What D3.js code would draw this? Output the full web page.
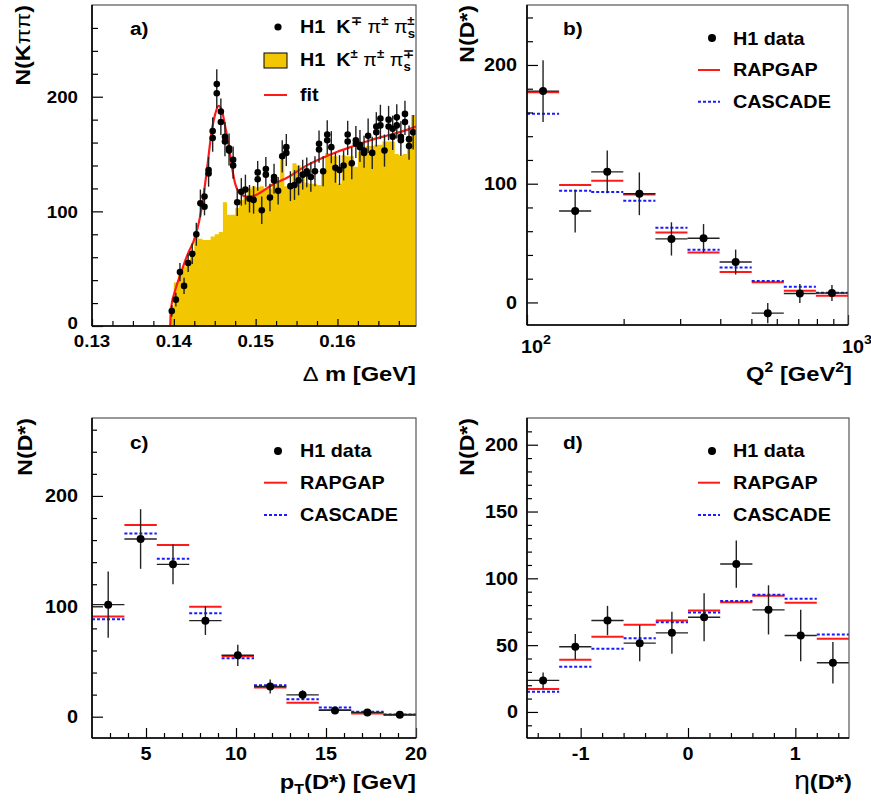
<!DOCTYPE html>
<html><head><meta charset="utf-8">
<script src="https://cdn.jsdelivr.net/npm/d3@7"></script>
<style>
body{margin:0;background:#fff}
text{font-family:"Liberation Sans",Arial,sans-serif;font-weight:bold;fill:#000;white-space:pre}
</style>
</head><body>
<svg id="fig" width="871" height="801"></svg>
<script>
// ---------------- DATA ----------------
// panel a) delta-m distribution
const aCenters = [0.13975,0.14025,0.14075,0.14125,0.14175,0.14225,0.14275,0.14325,0.14375,0.14425,
0.14475,0.14525,0.14575,0.14625,0.14675,0.14725,0.14775,0.14825,0.14875,0.14925,
0.14975,0.15025,0.15075,0.15125,0.15175,0.15225,0.15275,0.15325,0.15375,0.15425,
0.15475,0.15525,0.15575,0.15625,0.15675,0.15725,0.15775,0.15825,0.15875,0.15925,
0.15975,0.16025,0.16075,0.16125,0.16175,0.16225,0.16275,0.16325,0.16375,0.16425,
0.16475,0.16525,0.16575,0.16625,0.16675,0.16725,0.16775,0.16825,0.16875,0.16925];
const aData = [13,23,47,35,55,63,80,107,113,136,
170,211,187,165,155,145,108,117,119,111,
110,134,101,137,112,130,118,148,156,122,
123,127,132,135,130,135,159,135,167,156,
138,136,140,167,142,162,158,153,166,151,
174,181,153,180,172,182,165,185,163,169];
const aData2 = [null,null,null,null,null,null,null,null,104,133,
164,203,178,161,153,140,null,null,null,null,
null,128,null,132,null,127,null,null,151,null,
null,null,null,133,null,null,154,null,162,null,
null,null,null,161,null,159,156,151,null,null,
169,175,null,174,165,175,162,178,157,null];
const aErr = [5,6,8,7,8,9,10,12,12,13,
15,17,16,15,14,14,12,12,13,12,
12,13,12,13,12,13,12,14,14,13,
13,13,13,13,13,13,14,13,15,14,
13,13,13,15,14,14,14,14,15,14,
15,15,14,15,15,15,15,15,15,15];
const aHist = [17,38,45,52,58,64,80,76,75,75,
78,80,82,108,97,97,103,110,112,120,
122,121,122,120,120,123,127,145,122,123,
142,140,130,125,124,124,123,135,151,148,
148,124,149,148,148,139,152,152,157,157,
158,158,161,161,161,150,149,150,164,184];
const fitX = [0.13956,0.13962,0.13976,0.1400,0.14037,0.1409,0.14139,0.1419,0.1424,0.14289,0.14343,0.14404,0.14465,0.14506,0.14546,0.14587,0.14628,0.14668,0.1471,0.1475,0.14811,0.14893,0.14974,0.1505,0.152,0.154,0.156,0.158,0.160,0.162,0.164,0.166,0.168,0.1696];
const fitY = [0,10,20,27,36,47,57,66,73.5,85,104,136,171,185,192,188,174,159,139,124,115.7,112.8,113.4,116,123,130,139,146,152,157,162,166,170,174];
const aXMajor = [0.13,0.14,0.15,0.16];
const aXLabels = ["0.13","0.14","0.15","0.16"];
const aXMinor = [0.1325,0.135,0.1375,0.1425,0.145,0.1475,0.1525,0.155,0.1575,0.1625,0.165,0.1675];
const aYMajor = [0,100,200];
const aYLabels = ["0","100","200"];
const aYMinor = [20,40,60,80,120,140,160,180,220,240,260];

// panel b) Q^2
const bEdges = [100,125.9,158.5,199.5,251.2,316.2,398.1,501.2,631.0,794.3,1000];
const bData = [178,77,110,91.5,53.5,54,34,-9,7.5,8];
const bErr  = [26,18,18,18,14,12,10.5,8.5,8,6.7];
const bRap  = [177,99,102.5,91,59,42,25.6,17,9.8,5.6];
const bCas  = [159,94,93,85.7,63,44.4,29.5,18,13.2,8.1];
const bXMajor = [100,1000];
const bXLabels = ["2","3"];
const bXMinor = [200,300,400,500,600,700,800,900];
const bYMajor = [0,100,200];
const bYLabels = ["0","100","200"];
const bYMinor = [20,40,60,80,120,140,160,180,220,240];

// panel c) pT
const cEdges = [2,3.8,5.6,7.4,9.2,11,12.8,14.6,16.4,18.2,20];
const cData = [101.5,161,138,87,55.6,27.3,19.8,5.7,3.9,1.8];
const cErr  = [30,27,18,13,9.6,6.3,4.2,2,1.5,1];
const cRap  = [90.7,173.6,155.6,99.7,55,26.4,12.6,6,3,1.8];
const cCas  = [88.3,166,143,93.7,52.9,28.5,15.9,8.4,4.5,2.1];
const cXMajor = [5,10,15,20];
const cXLabels = ["5","10","15","20"];
const cXMinor = [3,4,6,7,8,9,11,12,13,14,16,17,18,19];
const cYMajor = [0,100,200];
const cYLabels = ["0","100","200"];
const cYMinor = [20,40,60,80,120,140,160,180,220,240,260];

// panel d) eta
const dEdges = [-1.5,-1.2,-0.9,-0.6,-0.3,0,0.3,0.6,0.9,1.2,1.5];
const dData = [23.6,48.8,68.4,51.5,59.2,70.9,110.7,76.4,57.2,36.8];
const dErr  = [6,9.5,11,13.5,15.7,18,17.7,18.4,19.3,15.5];
const dRap  = [17.2,39,56.2,65.2,68.4,75.9,82.1,87,81.8,54.7];
const dCas  = [15.2,33.8,47.3,55.2,67.2,74.4,83,87.8,84.8,58];
const dXMajor = [-1,0,1];
const dXLabels = ["-1","0","1"];
const dXMinor = [-1.4,-1.2,-0.8,-0.6,-0.4,-0.2,0.2,0.4,0.6,0.8,1.2,1.4];
const dYMajor = [0,50,100,150,200];
const dYLabels = ["0","50","100","150","200"];
const dYMinor = [-10,10,20,30,40,60,70,80,90,110,120,130,140,160,170,180,190,210];

// ---------------- DRAWING ----------------
const svg = d3.select("#fig");
const RED = "#ff1a1a", BLUE = "#1a1aff", YEL = "#f2c600";

function txt(g, x, y, parts, size, anchor, rot, sx) {
  const t = g.append("text")
    .attr("transform", `translate(${x},${y})` + (rot ? " rotate(-90)" : "") + ` scale(${sx || 1.1},1)`)
    .attr("text-anchor", anchor || "start")
    .style("font-size", size + "px");
  if (typeof parts === "string") parts = [{t: parts}];
  parts.forEach(p => {
    const s = t.append("tspan").text(p.t);
    if (p.dy) s.attr("dy", p.dy);
    if (p.dx) s.attr("dx", p.dx);
    if (p.fs) s.style("font-size", p.fs + "px");
    if (p.n) s.style("font-weight", "normal");
  });
  return t;
}

function frame(box, id) {
  const g = svg.append("g");
  const clipId = "clip" + id;
  svg.append("clipPath").attr("id", clipId).append("rect")
    .attr("x", box.x0).attr("y", box.y0).attr("width", box.x1 - box.x0).attr("height", box.y1 - box.y0);
  const inner = g.append("g").attr("clip-path", `url(#${clipId})`);
  return {g, inner};
}

function axes(g, box, xs, ys, cfg) {
  const mk = (axis, vals, size, tr) => {
    const a = g.append("g").attr("transform", tr)
      .call(axis.tickValues(vals).tickSizeInner(-size).tickSizeOuter(0).tickFormat(""));
    a.select(".domain").remove();
    a.selectAll("line").attr("stroke", "#000").attr("stroke-width", 1.2);
  };
  mk(d3.axisBottom(xs), cfg.xMinor, cfg.xMinLen, `translate(0,${box.y1})`);
  mk(d3.axisBottom(xs), cfg.xMajor, cfg.xMajLen, `translate(0,${box.y1})`);
  mk(d3.axisLeft(ys), cfg.yMinor, cfg.yMinLen, `translate(${box.x0},0)`);
  mk(d3.axisLeft(ys), cfg.yMajor, cfg.yMajLen, `translate(${box.x0},0)`);
  g.append("rect").attr("x", box.x0).attr("y", box.y0)
    .attr("width", box.x1 - box.x0).attr("height", box.y1 - box.y0)
    .attr("fill", "none").attr("stroke", "#555").attr("stroke-width", 1.2);
  g.append("line").attr("x1", box.x0).attr("x2", box.x1).attr("y1", box.y1).attr("y2", box.y1)
    .attr("stroke", "#000").attr("stroke-width", 1.6);
  g.append("line").attr("x1", box.x0).attr("x2", box.x0).attr("y1", box.y0).attr("y2", box.y1)
    .attr("stroke", "#000").attr("stroke-width", 1.6);
  cfg.yMajor.forEach((v, i) => txt(g, cfg.yLabX, ys(v) + (cfg.yOff && v === 0 ? cfg.yOff : 6.5), cfg.yLabels[i], cfg.fs, "end"));
}

function binnedPanel(box, xs, ys, edges, data, err, rap, cas, id) {
  const {g, inner} = frame(box, id);
  const n = data.length;
  for (let i = 0; i < n; i++) {
    const xl = xs(edges[i]), xr = xs(edges[i + 1]);
    inner.append("line").attr("x1", xl).attr("x2", xr).attr("y1", ys(rap[i])).attr("y2", ys(rap[i]))
      .attr("stroke", RED).attr("stroke-width", 2);
    inner.append("line").attr("x1", xl).attr("x2", xr).attr("y1", ys(cas[i])).attr("y2", ys(cas[i]))
      .attr("stroke", BLUE).attr("stroke-width", 2).attr("stroke-dasharray", "3,2");
  }
  for (let i = 0; i < n; i++) {
    const xl = xs(edges[i]), xr = xs(edges[i + 1]);
    const xc = (xs.base ? xs(Math.sqrt(edges[i] * edges[i + 1])) : xs((edges[i] + edges[i + 1]) / 2));
    inner.append("line").attr("x1", xl).attr("x2", xr).attr("y1", ys(data[i])).attr("y2", ys(data[i]))
      .attr("stroke", "#222").attr("stroke-width", 1.4);
    inner.append("line").attr("x1", xc).attr("x2", xc).attr("y1", ys(data[i] - err[i])).attr("y2", ys(data[i] + err[i]))
      .attr("stroke", "#222").attr("stroke-width", 1.4);
    inner.append("circle").attr("cx", xc).attr("cy", ys(data[i])).attr("r", 4).attr("fill", "#000");
  }
  return g;
}

function modelLegend(g, box, rel) {
  const x0 = box.x0, y0 = box.y0;
  g.append("circle").attr("cx", x0 + rel.dot[0]).attr("cy", y0 + rel.dot[1]).attr("r", 4).attr("fill", "#000");
  txt(g, x0 + rel.tx, y0 + rel.t1, "H1 data", 18);
  g.append("line").attr("x1", x0 + rel.l[0]).attr("x2", x0 + rel.l[1]).attr("y1", y0 + rel.r).attr("y2", y0 + rel.r)
    .attr("stroke", RED).attr("stroke-width", 2);
  txt(g, x0 + rel.tx, y0 + rel.t2, "RAPGAP", 18);
  g.append("line").attr("x1", x0 + rel.l[0]).attr("x2", x0 + rel.l[1]).attr("y1", y0 + rel.c).attr("y2", y0 + rel.c)
    .attr("stroke", BLUE).attr("stroke-width", 2).attr("stroke-dasharray", "3,2");
  txt(g, x0 + rel.tx, y0 + rel.t3, "CASCADE", 18);
}

const TFS = 21, TSX = 1.13;

// ----- panel a -----
{
  const box = {x0: 92, x1: 416, y0: 5, y1: 326};
  const xs = d3.scaleLinear().domain([0.13, 0.1696]).range([box.x0, box.x1]);
  const ys = d3.scaleLinear().domain([0, 280]).range([box.y1, box.y0]);
  const {g, inner} = frame(box, "a");
  const pts = [];
  aCenters.forEach((c, i) => { pts.push([c - 0.00025, aHist[i]]); pts.push([c + 0.00025, aHist[i]]); });
  inner.append("path").datum(pts)
    .attr("d", d3.area().x(d => xs(d[0])).y0(ys(0)).y1(d => ys(d[1])))
    .attr("fill", YEL);
  inner.append("path").datum(fitX.map((x, i) => [x, fitY[i]]))
    .attr("d", d3.line().x(d => xs(d[0])).y(d => ys(d[1])).curve(d3.curveMonotoneX))
    .attr("fill", "none").attr("stroke", RED).attr("stroke-width", 2.2);
  aCenters.forEach((c, i) => {
    const v2 = aData2[i];
    const m = v2 == null ? aData[i] : (aData[i] + v2) / 2;
    inner.append("line").attr("x1", xs(c)).attr("x2", xs(c))
      .attr("y1", ys(m - aErr[i])).attr("y2", ys(m + aErr[i]))
      .attr("stroke", "#222").attr("stroke-width", 1.4);
  });
  aCenters.forEach((c, i) => {
    inner.append("circle").attr("cx", xs(c)).attr("cy", ys(aData[i])).attr("r", 3.3).attr("fill", "#000");
    if (aData2[i] != null)
      inner.append("circle").attr("cx", xs(c)).attr("cy", ys(aData2[i])).attr("r", 3.3).attr("fill", "#000");
  });
  axes(g, box, xs, ys, {xMajor: aXMajor, xMinor: aXMinor, yMajor: aYMajor, yMinor: aYMinor, yLabels: aYLabels,
    xMajLen: 7, xMinLen: 5, yMajLen: 11, yMinLen: 6, yLabX: 78, fs: 17, yOff: 3});
  aXMajor.forEach((v, i) => txt(g, xs(v), 347, aXLabels[i], 17, "middle"));
  g.append("circle").attr("cx", 278).attr("cy", 27).attr("r", 3.6).attr("fill", "#000");
  txt(g, 300, 33, [{t: "H1  K"}, {t: "\u2213", fs: 12, dy: -8}, {t: " \u03c0", dy: 8, n: 1},
    {t: "\u00b1", fs: 12, dy: -8}, {t: " \u03c0", dy: 8, n: 1}, {t: "s", fs: 12, dy: 5},
    {t: "\u00b1", fs: 12, dx: -7, dy: -13}], 18);
  g.append("rect").attr("x", 264).attr("y", 53).attr("width", 23).attr("height", 15)
    .attr("fill", YEL).attr("stroke", "#000").attr("stroke-width", 1);
  txt(g, 300, 66, [{t: "H1  K"}, {t: "\u00b1", fs: 12, dy: -8}, {t: " \u03c0", dy: 8, n: 1},
    {t: "\u00b1", fs: 12, dy: -8}, {t: " \u03c0", dy: 8, n: 1}, {t: "s", fs: 12, dy: 5},
    {t: "\u2213", fs: 12, dx: -7, dy: -13}], 18);
  g.append("line").attr("x1", 264).attr("x2", 287).attr("y1", 95).attr("y2", 95)
    .attr("stroke", RED).attr("stroke-width", 2);
  txt(g, 300, 101, "fit", 18);
  txt(g, 130, 35, "a)", 19);
  txt(g, 416, 381, [{t: "\u0394", n: 1}, {t: " m [GeV]"}], TFS, "end", false, TSX);
  txt(g, 30, 5, [{t: "N(K"}, {t: "\u03c0\u03c0", n: 1}, {t: ")"}], TFS, "end", true, 1.1);
}

// ----- panel b -----
{
  const box = {x0: 527, x1: 848, y0: 5, y1: 325};
  const xs = d3.scaleLog().domain([100, 1000]).range([box.x0, box.x1]);
  const ys = d3.scaleLinear().domain([-19, 250.5]).range([box.y1, box.y0]);
  const g = binnedPanel(box, xs, ys, bEdges, bData, bErr, bRap, bCas, "b");
  axes(g, box, xs, ys, {xMajor: bXMajor, xMinor: bXMinor, yMajor: bYMajor, yMinor: bYMinor, yLabels: bYLabels,
    xMajLen: 10, xMinLen: 6, yMajLen: 11, yMinLen: 6, yLabX: 517, fs: 18});
  bXMajor.forEach((v, i) => txt(g, xs(v) - 6, 353, [{t: "10"}, {t: bXLabels[i], fs: 13, dy: -9}], 18, "start"));
  modelLegend(g, box, {dot: [185, 33], tx: 206, t1: 40, l: [171, 193], r: 65, t2: 71, c: 96.7, t3: 103});
  txt(g, 563, 35, "b)", 19);
  txt(g, 852, 381, [{t: "Q"}, {t: "2", fs: 14, dy: -9}, {t: " [GeV", dy: 9}, {t: "2", fs: 14, dy: -9}, {t: "]", dy: 9}], TFS, "end", false, TSX);
  txt(g, 474, 5, "N(D*)", TFS, "end", true, 1.1);
}

// ----- panel c -----
{
  const box = {x0: 92, x1: 416, y0: 418, y1: 738};
  const xs = d3.scaleLinear().domain([2, 20]).range([box.x0, box.x1]);
  const ys = d3.scaleLinear().domain([-19.3, 270.6]).range([box.y1, box.y0]);
  const g = binnedPanel(box, xs, ys, cEdges, cData, cErr, cRap, cCas, "c");
  axes(g, box, xs, ys, {xMajor: cXMajor, xMinor: cXMinor, yMajor: cYMajor, yMinor: cYMinor, yLabels: cYLabels,
    xMajLen: 10, xMinLen: 5, yMajLen: 11, yMinLen: 5, yLabX: 78, fs: 18});
  cXMajor.forEach((v, i) => txt(g, xs(v), 760, cXLabels[i], 18, "middle"));
  modelLegend(g, box, {dot: [186, 33], tx: 208, t1: 39, l: [172, 195], r: 64.7, t2: 71, c: 97, t3: 103});
  txt(g, 130, 449, "c)", 19);
  txt(g, 416, 789, [{t: "p"}, {t: "T", fs: 14, dy: 5}, {t: "(D*) [GeV]", dy: -5}], TFS, "end", false, TSX);
  txt(g, 32, 418, "N(D*)", TFS, "end", true, 1.1);
}

// ----- panel d -----
{
  const box = {x0: 527, x1: 849, y0: 418, y1: 738};
  const xs = d3.scaleLinear().domain([-1.5, 1.5]).range([box.x0, box.x1]);
  const ys = d3.scaleLinear().domain([-19.5, 220]).range([box.y1, box.y0]);
  const g = binnedPanel(box, xs, ys, dEdges, dData, dErr, dRap, dCas, "d");
  axes(g, box, xs, ys, {xMajor: dXMajor, xMinor: dXMinor, yMajor: dYMajor, yMinor: dYMinor, yLabels: dYLabels,
    xMajLen: 10, xMinLen: 5, yMajLen: 11, yMinLen: 5, yLabX: 518, fs: 18});
  dXMajor.forEach((v, i) => txt(g, xs(v), 760, dXLabels[i], 18, "middle"));
  modelLegend(g, box, {dot: [185, 33], tx: 206, t1: 39, l: [171, 193], r: 64.7, t2: 71, c: 97, t3: 103});
  txt(g, 563, 449, "d)", 19);
  txt(g, 852, 789, [{t: "\u03b7", n: 1, fs: 25}, {t: "(D*)"}], TFS, "end", false, TSX);
  txt(g, 474, 418, "N(D*)", TFS, "end", true, 1.1);
}
</script>
</body></html>
